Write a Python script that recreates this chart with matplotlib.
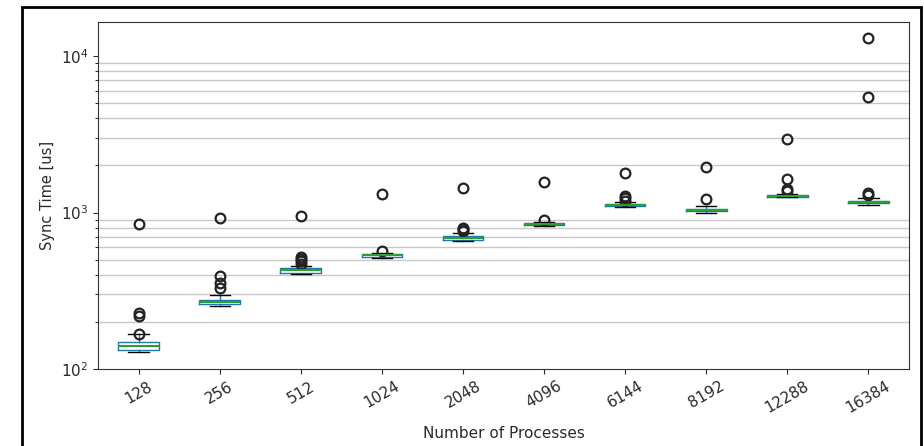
import matplotlib
matplotlib.use("Agg")
import matplotlib.pyplot as plt
from matplotlib.patches import Rectangle

categories = ["128", "256", "512", "1024", "2048", "4096", "6144", "8192", "12288", "16384"]
whislo = [128, 253, 405, 515, 655, 820, 1085, 1000, 1250, 1120]
q1 = [133, 259, 411, 522, 670, 832, 1100, 1020, 1265, 1145]
med = [140, 268, 427, 532, 688, 845, 1115, 1040, 1280, 1165]
q3 = [148, 276, 442, 542, 705, 856, 1130, 1060, 1295, 1185]
whishi = [167, 296, 457, 555, 740, 872, 1160, 1100, 1320, 1240]
fliers = [
    [168, 218, 228, 845],
    [331, 356, 393, 922],
    [470, 488, 505, 520, 950],
    [568, 1313],
    [765, 780, 792, 1430],
    [890, 1573],
    [1190, 1238, 1274, 1780],
    [1215, 1962],
    [1380, 1420, 1630, 2950],
    [1300, 1335, 5500, 12970],
]

stats = []
for i, c in enumerate(categories):
    stats.append(dict(label=c, whislo=whislo[i], q1=q1[i], med=med[i], q3=q3[i],
                      whishi=whishi[i], fliers=fliers[i]))

fig = plt.figure(figsize=(9.24, 4.46), dpi=100)
ax = fig.add_axes([98/924, 77/446, (909-98)/924, (424-77)/446])

ax.bxp(stats, widths=0.5,
       boxprops=dict(color="#1f77b4", linewidth=1.0),
       whiskerprops=dict(color="#1f77b4", linewidth=1.0),
       capprops=dict(color="black", linewidth=1.0),
       medianprops=dict(color="#2ca02c", linewidth=1.5),
       flierprops=dict(marker="o", markerfacecolor="none", markeredgecolor="#222222",
                       markersize=7, markeredgewidth=1.6))
ax.set_yscale("log")
ax.set_ylim(100, 16500)
ax.set_xlim(0.5, 10.5)
ax.yaxis.grid(True, which="minor", color="#c8c8c8", linewidth=1.0)
ax.set_axisbelow(True)
ax.tick_params(axis="x", labelrotation=30)
ax.tick_params(labelsize=11, colors="#2a2a2a")
ax.set_xlabel("Number of Processes", fontsize=11, color="#2a2a2a", labelpad=7)
ax.set_ylabel("Sync Time [us]", fontsize=10.5, color="#2a2a2a", labelpad=4)
for s in ax.spines.values():
    s.set_color("#333333")

fig.add_artist(Rectangle((22/924, -0.02), (921-22)/924, (446-7)/446 + 0.02,
                         transform=fig.transFigure, fill=False, edgecolor="black",
                         linewidth=2.0, clip_on=False))

fig.savefig("out.png", dpi=100)
